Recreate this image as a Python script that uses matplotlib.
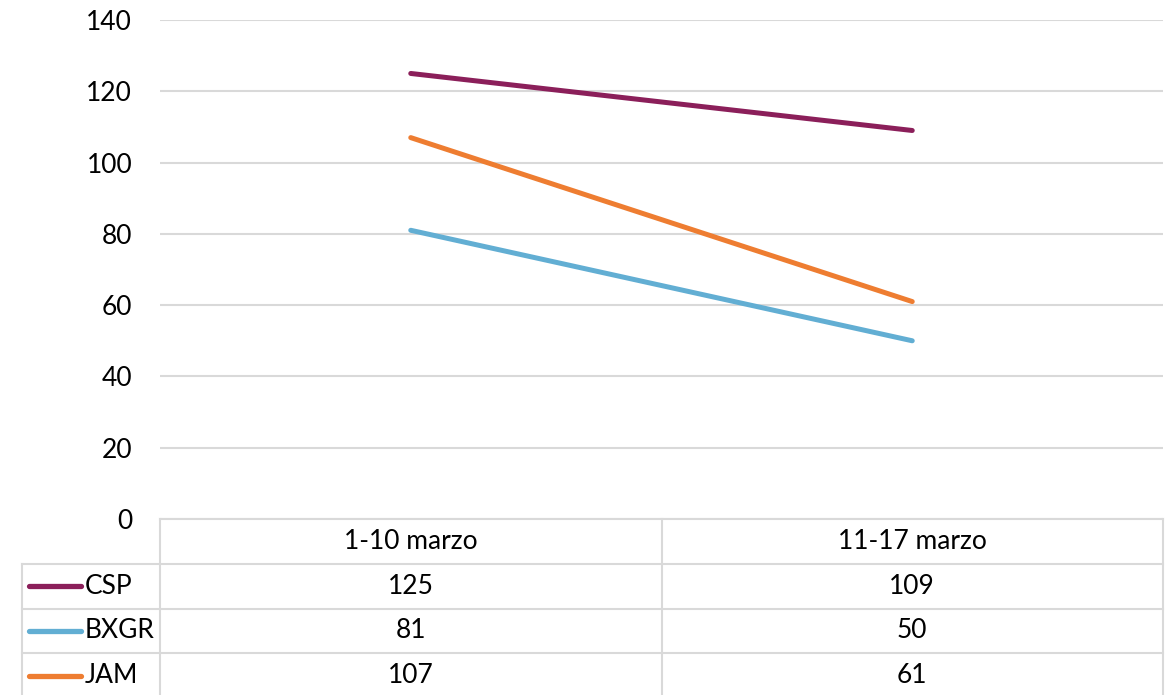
import matplotlib.pyplot as plt

# data
categories = ['1-10 marzo', '11-17 marzo']
series_names = ['CSP', 'BXGR', 'JAM']
csp = [125, 109]
bxgr = [81, 50]
jam = [107, 61]
colors = ['#8B1F5A', '#62AED3', '#EE7D31']
y_ticks = [0, 20, 40, 60, 80, 100, 120, 140]

plt.rcParams['font.family'] = ['Lato', 'DejaVu Sans']
W, H = 1173, 695
fig = plt.figure(figsize=(W / 100, H / 100), dpi=100)

# plot area placed in pixel terms
left, right, top, bottom = 160, 1163, 20, 519
ax = fig.add_axes([left / W, 1 - bottom / H, (right - left) / W, (bottom - top) / H])

x = list(range(len(categories)))
for vals, col in zip([csp, bxgr, jam], colors):
    ax.plot(x, vals, color=col, linewidth=3.6, solid_capstyle='round')

ax.set_xlim(-0.5, len(categories) - 0.5)
ax.set_ylim(0, 140)
ax.set_yticks(y_ticks)
ax.tick_params(axis='y', length=0, pad=20, labelsize=19)
ax.set_xticks([])
ax.grid(axis='y', color='#D9D9D9', linewidth=1.5)
ax.set_axisbelow(True)
for s in ax.spines.values():
    s.set_visible(False)

# data table underneath, drawn on an overlay in pixel coordinates
tab = fig.add_axes([0, 0, 1, 1], facecolor='none')
tab.set_xlim(0, W)
tab.set_ylim(H, 0)
tab.axis('off')
grid_c = '#D9D9D9'
lw = 1.5
row_h = 44.8
col_w = (right - left) / len(categories)
leg_left = 22
rows_y = [bottom + row_h * i for i in range(len(series_names) + 2)]

# header row
tab.plot([left, right], [bottom, bottom], color=grid_c, lw=lw)
for i in range(len(categories) + 1):
    xv = left + col_w * i
    tab.plot([xv, xv], [bottom, H], color=grid_c, lw=lw)
for i, c in enumerate(categories):
    tab.text(left + col_w * (i + 0.5), bottom + row_h / 2, c, ha='center', va='center', fontsize=19)

# series rows
tab.plot([leg_left, leg_left], [rows_y[1], H], color=grid_c, lw=lw)
for r in range(1, len(series_names) + 2):
    tab.plot([leg_left, right], [rows_y[r], rows_y[r]], color=grid_c, lw=lw)
for r, (name, vals, col) in enumerate(zip(series_names, [csp, bxgr, jam], colors)):
    yc = rows_y[r + 1] + row_h / 2
    tab.plot([29, 81], [yc, yc], color=col, lw=3.8, solid_capstyle='round')
    tab.text(85, yc, name, ha='left', va='center', fontsize=19)
    for i, v in enumerate(vals):
        tab.text(left + col_w * (i + 0.5), yc, str(v), ha='center', va='center', fontsize=19)

fig.savefig('out.png', dpi=100)
